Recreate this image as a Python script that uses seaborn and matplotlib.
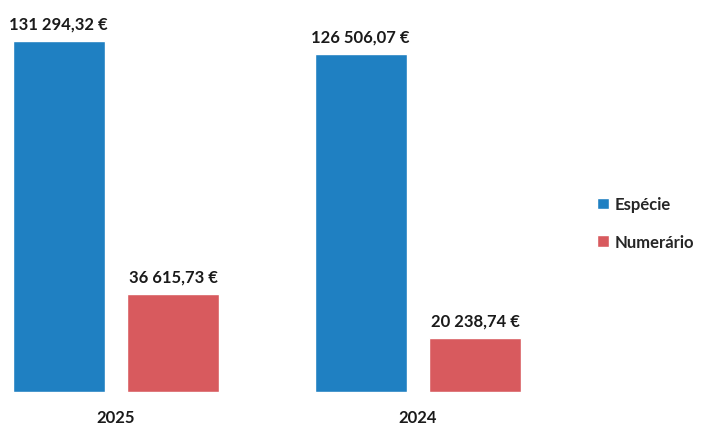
import pandas as pd
import matplotlib.pyplot as plt
import seaborn as sns

# data
anos = ['2025', '2024']
especie = [131294.32, 126506.07]
numerario = [36615.73, 20238.74]
series = ['Espécie', 'Numerário']
cores = ['#1f80c2', '#d85a5e']

df = pd.DataFrame({
    'Ano': anos * 2,
    'Tipo': [series[0]] * 2 + [series[1]] * 2,
    'Valor': especie + numerario,
})

sns.set_style('white')
plt.rcParams['font.family'] = ['Lato', 'DejaVu Sans']
plt.rcParams['font.weight'] = 'bold'

fig = plt.figure(figsize=(7.03, 4.27), dpi=100)
ax = fig.add_axes([0, 34 / 427, 560 / 703, 393 / 427])
sns.barplot(data=df, x='Ano', y='Valor', hue='Tipo', palette=cores,
            order=anos, hue_order=series, width=0.76, gap=0.2,
            saturation=1, ax=ax)

def fmt(v):
    s = f'{v:,.2f}'
    return s.replace(',', ' ').replace('.', ',') + ' €'

for cont in ax.containers:
    ax.bar_label(cont, labels=[fmt(b.get_height()) for b in cont],
                 padding=7, fontsize=12, fontweight='bold', color='#1a1a1a')

ax.set_xlim(-116 / 302, 444 / 302)
ax.set_ylim(0, 147000)
ax.set_xlabel('')
ax.set_ylabel('')
ax.set_yticks([])
ax.tick_params(axis='x', length=0, pad=12, labelsize=12, labelcolor='#1a1a1a')
sns.despine(ax=ax, left=True, bottom=True)

ax.legend(loc='center left', bbox_to_anchor=(1.04, 0.43), frameon=False,
          handlelength=0.7, handleheight=0.7, handletextpad=0.35,
          labelspacing=1.3, prop={'weight': 'bold', 'size': 12})

fig.savefig('out.png', dpi=100)
